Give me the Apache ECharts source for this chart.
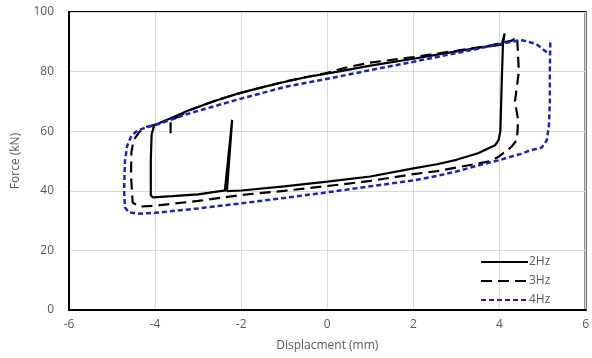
<!DOCTYPE html>
<html>
<head>
<meta charset="utf-8">
<script src="https://cdn.jsdelivr.net/npm/echarts@6/dist/echarts.min.js"></script>
<style>html,body{margin:0;padding:0;background:#fff}#c{width:592px;height:358px}</style>
</head>
<body>
<div id="c"></div>
<script>
// Tick settings
const xTicks = [-6, -4, -2, 0, 2, 4, 6];
const yTicks = [0, 20, 40, 60, 80, 100];
const seriesNames = ['2Hz', '3Hz', '4Hz'];

// 2Hz loop (displacement mm, force kN), in drawing order
const hz2X = [-2.38, -2.21, -2.33, -3.0, -3.6, -4.05, -4.1, -4.1, -4.08, -4.02, -3.6, -3.2, -2.6, -2.06, -1.5, -1.0, -0.5, 0.25, 1.0, 2.0, 3.0, 3.6, 4.05, 4.12, 4.08, 4.06, 4.04, 4.02, 3.98, 3.9, 3.5, 3.0, 2.55, 2.0, 1.0, 0.0, -1.0, -2.0, -2.33];
const hz2Y = [40.0, 63.8, 40.2, 38.8, 38.2, 37.8, 38.5, 50, 59, 62, 64.6, 67.1, 70.2, 72.7, 74.8, 76.5, 78.1, 80.0, 82.0, 84.3, 86.8, 88.2, 89.0, 92.8, 89.0, 80, 70, 60, 57, 55.3, 52.6, 50.4, 48.9, 47.5, 44.8, 43.1, 41.5, 40.1, 39.9];

// 3Hz loop
const hz3X = [-3.64, -3.64, -3.64, -3.2, -2.6, -2.0, -1.0, 0.0, 0.5, 1.0, 2.0, 3.0, 3.8, 4.3, 4.4, 4.42, 4.45, 4.36, 4.43, 4.42, 4.4, 4.28, 4.0, 3.78, 3.0, 2.55, 2.0, 1.0, 0.0, -1.0, -2.0, -3.0, -4.0, -4.35, -4.52, -4.56, -4.55, -4.5, -4.35, -4.2, -3.9];
const hz3Y = [59.3, 62.5, 63.5, 67.0, 70.3, 72.9, 76.6, 79.6, 81.6, 83.0, 84.9, 87.0, 88.8, 90.5, 91.7, 89, 80, 70, 64, 60, 57, 54.8, 51.6, 49.9, 47.8, 46.6, 45.6, 43.3, 41.6, 40.0, 38.6, 36.6, 35.0, 34.7, 36, 45, 53, 57, 60, 61.5, 62.5];

// 4Hz loop
const hz4X = [5.18, 5.17, 5.17, 5.15, 5.1, 4.98, 4.7, 4.5, 4.0, 3.5, 3.0, 2.55, 2.0, 1.0, 0.0, -1.0, -2.0, -3.0, -4.0, -4.4, -4.62, -4.7, -4.72, -4.7, -4.65, -4.55, -4.4, -4.2, -4.0, -3.2, -2.06, -1.0, 0.25, 1.0, 2.0, 3.0, 4.0, 4.5, 4.85, 5.1, 5.15];
const hz4Y = [89.8, 80, 70, 62, 57, 54.5, 53.5, 52.4, 50.3, 48.5, 46.5, 45.0, 43.5, 41.5, 39.5, 37.6, 35.8, 34.1, 32.6, 32.3, 32.8, 34.5, 40, 50, 55, 58.5, 60.3, 61.3, 62.0, 66.0, 70.7, 74.8, 78.3, 80.5, 83.3, 86.2, 89.2, 90.6, 89.3, 86.5, 86.2];

const zip = (xs, ys) => xs.map((x, i) => [x, ys[i]]);
const font = '"Open Sans", "Liberation Sans", sans-serif';
const txt = '#595959';

const chart = echarts.init(document.getElementById('c'));
chart.setOption({
  animation: false,
  backgroundColor: '#fff',
  grid: { left: 69, right: 2, top: 12, bottom: 48, show: true, borderColor: '#000', borderWidth: 2, backgroundColor: 'transparent' },
  xAxis: {
    type: 'value', min: xTicks[0], max: xTicks[xTicks.length - 1], interval: 2,
    name: 'Displacment (mm)', nameLocation: 'middle', nameGap: 30,
    nameTextStyle: { color: txt, fontSize: 12, fontFamily: font },
    axisLine: { show: true, onZero: false, lineStyle: { color: '#000', width: 2 } },
    axisTick: { show: false },
    axisLabel: { color: txt, fontSize: 12, fontFamily: font, margin: 9 },
    splitLine: { show: true, lineStyle: { color: '#d9d9d9', width: 1 } }
  },
  yAxis: {
    type: 'value', min: yTicks[0], max: yTicks[yTicks.length - 1], interval: 20,
    name: 'Force (kN)', nameLocation: 'middle', nameGap: 47,
    nameTextStyle: { color: txt, fontSize: 12, fontFamily: font },
    axisLine: { show: true, onZero: false, lineStyle: { color: '#000', width: 2 } },
    axisTick: { show: false },
    axisLabel: { color: txt, fontSize: 12, fontFamily: font, margin: 15 },
    splitLine: { show: true, lineStyle: { color: '#d9d9d9', width: 1 } }
  },
  legend: {
    orient: 'vertical', left: 475, top: 251, itemWidth: 47, itemHeight: 10, itemGap: 7,
    itemStyle: { opacity: 0 },
    textStyle: { color: txt, fontSize: 12, fontFamily: font, padding: [0, 0, 0, -4] },
    data: seriesNames
  },
  series: [
    { name: seriesNames[0], type: 'line', data: zip(hz2X, hz2Y), showSymbol: false, symbol: 'none', smooth: false,
      lineStyle: { color: '#000', width: 2.2, type: 'solid' }, itemStyle: { color: '#000' } },
    { name: seriesNames[1], type: 'line', data: zip(hz3X, hz3Y), showSymbol: false, symbol: 'none',
      lineStyle: { color: '#000', width: 2.2, type: [11, 6] }, itemStyle: { color: '#000' } },
    { name: seriesNames[2], type: 'line', data: zip(hz4X, hz4Y), showSymbol: false, symbol: 'none',
      lineStyle: { color: '#1f1fc8', width: 2.5, type: [5, 3] }, itemStyle: { color: '#1f1fc8' } }
  ]
});
</script>
</body>
</html>
